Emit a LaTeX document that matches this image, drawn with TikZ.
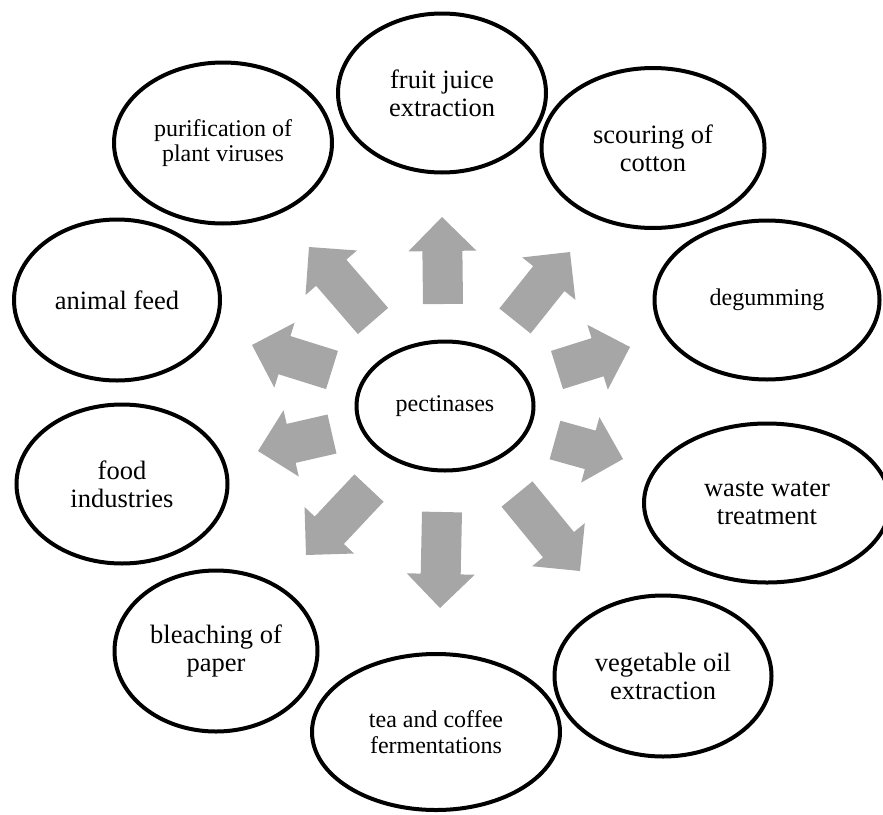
\documentclass[tikz,border=0pt]{standalone}
\usepackage{fontspec}
\setmainfont{Liberation Serif}
\usetikzlibrary{shapes.geometric,calc}
\definecolor{arrowgray}{RGB}{166,166,166}
\tikzset{
  bubble/.style={ellipse, draw=black, line width=4pt, inner sep=0pt, align=center, fill=white},
  bigtext/.style={font=\fontsize{26.5}{28}\selectfont},
  smalltext/.style={font=\fontsize{24}{25.5}\selectfont},
  blockfill/.style={fill=arrowgray, draw=none},
}
\newcommand\blockarrow[2]{%
  \coordinate (hb) at ($(#2)!34pt!(#1)$);
  \fill[blockfill] ($(#1)!20pt!90:(#2)$) -- ($(hb)!20pt!-90:(#1)$) -- ($(hb)!34pt!-90:(#1)$) -- (#2)
    -- ($(hb)!34pt!90:(#1)$) -- ($(hb)!20pt!90:(#1)$) -- ($(#1)!20pt!-90:(#2)$) -- cycle;
}
\begin{document}
\begin{tikzpicture}[x=1pt,y=-1pt]
\useasboundingbox (0,0) rectangle (883,814);

% arrow end points
\coordinate (a1s) at (443,304); \coordinate (a1t) at (442,217);
\coordinate (a2s) at (515,321); \coordinate (a2t) at (570,252);
\coordinate (a3s) at (557,370); \coordinate (a3t) at (630,347);
\coordinate (a4s) at (555,440); \coordinate (a4t) at (623,459);
\coordinate (a5s) at (517,494); \coordinate (a5t) at (580,571);
\coordinate (a6s) at (442,512); \coordinate (a6t) at (440,608);
\coordinate (a7s) at (369,488); \coordinate (a7t) at (306,555);
\coordinate (a8s) at (332,434); \coordinate (a8t) at (258,451);
\coordinate (a9s) at (332,370); \coordinate (a9t) at (252,345);
\coordinate (a10s) at (373,321); \coordinate (a10t) at (309,247);

\blockarrow{a1s}{a1t}
\blockarrow{a2s}{a2t}
\blockarrow{a3s}{a3t}
\blockarrow{a4s}{a4t}
\blockarrow{a5s}{a5t}
\blockarrow{a6s}{a6t}
\blockarrow{a7s}{a7t}
\blockarrow{a8s}{a8t}
\blockarrow{a9s}{a9t}
\blockarrow{a10s}{a10t}

\node[bubble, smalltext, minimum width=177pt, minimum height=129pt] (pect) at (445,406) {pectinases};
\node[bubble, bigtext, minimum width=208pt, minimum height=159pt] (fruit) at (442,93) {fruit juice\\extraction};
\node[bubble, bigtext, minimum width=223pt, minimum height=160pt] (scour) at (653,148) {scouring of\\cotton};
\node[bubble, smalltext, minimum width=225pt, minimum height=159pt] (degum) at (767,300) {degumming};
\node[bubble, bigtext, minimum width=246pt, minimum height=159pt] (waste) at (767,503) {waste water\\treatment};
\node[bubble, bigtext, minimum width=217pt, minimum height=161pt] (veg) at (663,676) {vegetable oil\\extraction};
\node[bubble, smalltext, minimum width=248pt, minimum height=156pt] (tea) at (436,732) {tea and coffee\\fermentations};
\node[bubble, bigtext, minimum width=203pt, minimum height=161pt] (bleach) at (216,651) {bleaching of\\paper};
\node[bubble, bigtext, minimum width=211pt, minimum height=159pt] (food) at (122,484) {food\\industries};
\node[bubble, bigtext, minimum width=206pt, minimum height=161pt] (animal) at (117,300) {animal feed};
\node[bubble, smalltext, minimum width=218pt, minimum height=161pt] (purif) at (223,143) {purification of\\plant viruses};
\end{tikzpicture}
\end{document}
